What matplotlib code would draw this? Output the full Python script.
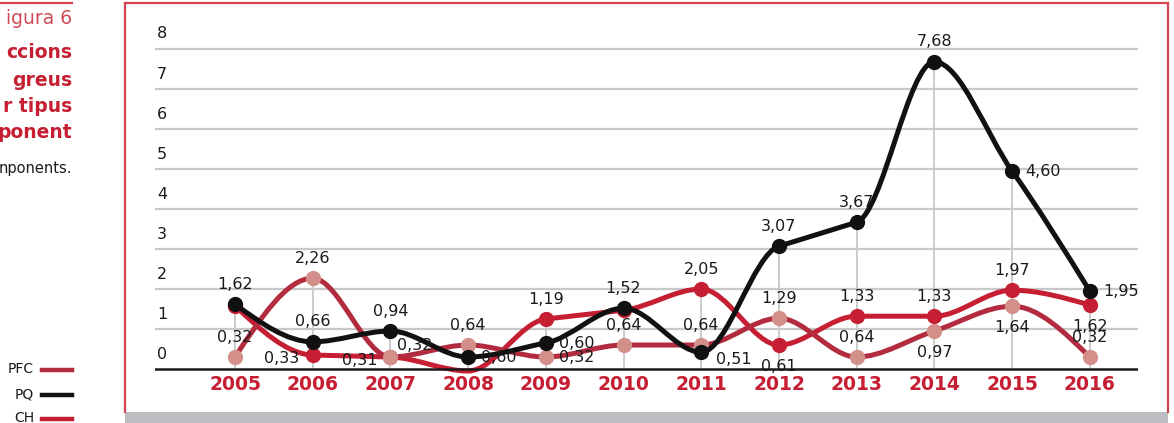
import matplotlib
matplotlib.use('Agg')
import matplotlib.pyplot as plt
from matplotlib.path import Path
from matplotlib.patches import PathPatch, Rectangle
from matplotlib.lines import Line2D
import matplotlib.transforms as mtransforms

years = [2005, 2006, 2007, 2008, 2009, 2010, 2011, 2012, 2013, 2014, 2015, 2016]

pq = [1.62, 0.68, 0.95, 0.30, 0.65, 1.52, 0.42, 3.07, 3.67, 7.68, 4.95, 1.95]
pq_labels = ['1,62', '0,66', '0,94', '0,60', '0,60', '1,52', '0,51', '3,07', '3,67', '7,68', '4,60', '1,95']

pfc = [0.30, 2.27, 0.30, 0.60, 0.30, 0.60, 0.60, 1.27, 0.30, 0.95, 1.57, 0.30]
pfc_labels = ['0,32', '2,26', '0,32', '0,64', '0,32', '0,64', '0,64', '1,29', '0,64', '0,97', '1,64', '0,32']

ch = [1.58, 0.35, 0.30, -0.05, 1.25, 1.47, 2.00, 0.60, 1.32, 1.32, 1.97, 1.60]
ch_labels = ['', '0,33', '0,31', '', '1,19', '', '2,05', '0,61', '1,33', '1,33', '1,97', '1,62']

y_ticks = [0, 1, 2, 3, 4, 5, 6, 7, 8]

# label placement per point: t=top, b=below, r=right, l=left, rd=right-down, ru=right-up
pq_pos = ['t', 't', 't', 'r', 'r', 't', 'rd', 't', 't', 't', 'r', 'r']
pfc_pos = ['t', 't', 'ru', 't', 'r', 't', 't', 't', 't', 'b', 'b', 't']
ch_pos = ['t', 'l', 'l', 't', 't', 't', 't', 'b', 't', 't', 't', 'b']

RED = '#c61e33'
PFC_LINE = '#b22b3e'
PFC_MARK = '#d3908a'
FRAME = '#d34453'
GRID = '#c8c8c8'

OFFS = {'t': ((0, 20), 'center', 'center'),
        'b': ((0, -21), 'center', 'center'),
        'r': ((13, 0), 'left', 'center'),
        'rd': ((15, -7), 'left', 'center'),
        'ru': ((7, 12), 'left', 'center'),
        'l': ((-13, -3), 'right', 'center')}


def sign(v):
    return (v > 0) - (v < 0)


def smooth_path(xs, ys):
    # cubic through the points, tangent = the flatter of the two neighbour slopes
    n = len(xs)
    s = [(ys[i + 1] - ys[i]) / (xs[i + 1] - xs[i]) for i in range(n - 1)]
    t = [0.0] * n
    for i in range(1, n - 1):
        if sign(s[i - 1]) == sign(s[i]):
            t[i] = sign(s[i]) * min(abs(s[i - 1]), abs(s[i]))
    t[0] = (3 * s[0] - t[1]) / 2
    t[-1] = (3 * s[-1] - t[-2]) / 2
    verts = [(xs[0], ys[0])]
    codes = [Path.MOVETO]
    for i in range(n - 1):
        h = (xs[i + 1] - xs[i]) / 3.0
        verts += [(xs[i] + h, ys[i] + t[i] * h),
                  (xs[i + 1] - h, ys[i + 1] - t[i + 1] * h),
                  (xs[i + 1], ys[i + 1])]
        codes += [Path.CURVE4] * 3
    return Path(verts, codes)


def draw_series(ax, ys, labels, pos, line_c, mark_c, z, skip=()):
    ax.add_patch(PathPatch(smooth_path(years, ys), fill=False, edgecolor=line_c,
                           lw=3.6, capstyle='round', zorder=z))
    xm = [x for i, x in enumerate(years) if i not in skip]
    ym = [y for i, y in enumerate(ys) if i not in skip]
    ax.plot(xm, ym, 'o', ms=11, color=mark_c, mec='none', zorder=z + 0.5)
    for x, y, lab, p in zip(years, ys, labels, pos):
        if not lab:
            continue
        off, ha, va = OFFS[p]
        ax.annotate(lab, (x, y), xytext=off, textcoords='offset pixels',
                    ha=ha, va=va, fontsize=11.5, color='#1a1a1a', zorder=10)


fig = plt.figure(figsize=(11.74, 4.23), dpi=100)
ax = fig.add_axes([0.1320, 0.1087, 0.8373, 0.8322])
ax.set_xlim(2003.97, 2016.62)
ax.set_ylim(-0.2, 8.6)
ax.axis('off')

for v in y_ticks[1:]:
    ax.axhline(v, color=GRID, lw=1.6, zorder=1)
ax.axhline(0, color='#1a1a1a', lw=1.8, zorder=6)

tops = [max(a, b, c) for a, b, c in zip(pq, pfc, ch)]
ax.vlines(years, 0, tops, color=GRID, lw=1.3, zorder=1)

ytr = mtransforms.blended_transform_factory(ax.transAxes, ax.transData)
for v in y_ticks:
    ax.text(0.002, v + 0.375, str(v), transform=ytr, ha='left', va='center',
            fontsize=11.5, color='#1a1a1a')

for x in years:
    ax.text(x, -0.38, str(x), ha='center', va='center', fontsize=13.5,
            fontweight='bold', color=RED)

draw_series(ax, ch, ch_labels, ch_pos, RED, RED, 3, skip=(3,))
draw_series(ax, pfc, pfc_labels, pfc_pos, PFC_LINE, PFC_MARK, 4)
draw_series(ax, pq, pq_labels, pq_pos, '#111111', '#111111', 5)

# frame around the chart
W, H = 1174.0, 423.0
def fx(px):
    return px / W
def fy(py):
    return 1 - py / H

for xs, ys in [([0, 72], [3, 3]), ([125, 1168], [3, 3]),
               ([125, 125], [3, 412]), ([1168, 1168], [3, 412])]:
    fig.add_artist(Line2D([fx(a) for a in xs], [fy(b) for b in ys],
                          color=FRAME, lw=1.6, transform=fig.transFigure))
fig.add_artist(Rectangle((fx(125), 0), fx(1168) - fx(125), 11 / H,
                         color='#bdbdc1', transform=fig.transFigure, lw=0))

# clipped side panel text
side = [('igura 6', 18, 'normal', '#cf4a57', 13.5), ('ccions', 53, 'bold', RED, 13.5),
        ('greus', 80, 'bold', RED, 13.5), ('r tipus', 107, 'bold', RED, 13.5),
        ('ponent', 133, 'bold', RED, 13.5), ('nponents.', 168, 'normal', '#1a1a1a', 10.5)]
for txt, py, wt, c, fs in side:
    fig.text(fx(72), fy(py), txt, ha='right', va='center', fontsize=fs,
             fontweight=wt, color=c)

for name, py, c in [('PFC', 369, PFC_LINE), ('PQ', 394, '#111111'), ('CH', 418, RED)]:
    fig.text(fx(34), fy(py), name, ha='right', va='center', fontsize=10,
             color='#1a1a1a')
    fig.add_artist(Line2D([fx(42), fx(72)], [fy(py + 1), fy(py + 1)], color=c,
                          lw=3.2, transform=fig.transFigure))

fig.savefig('out.png', dpi=100)
